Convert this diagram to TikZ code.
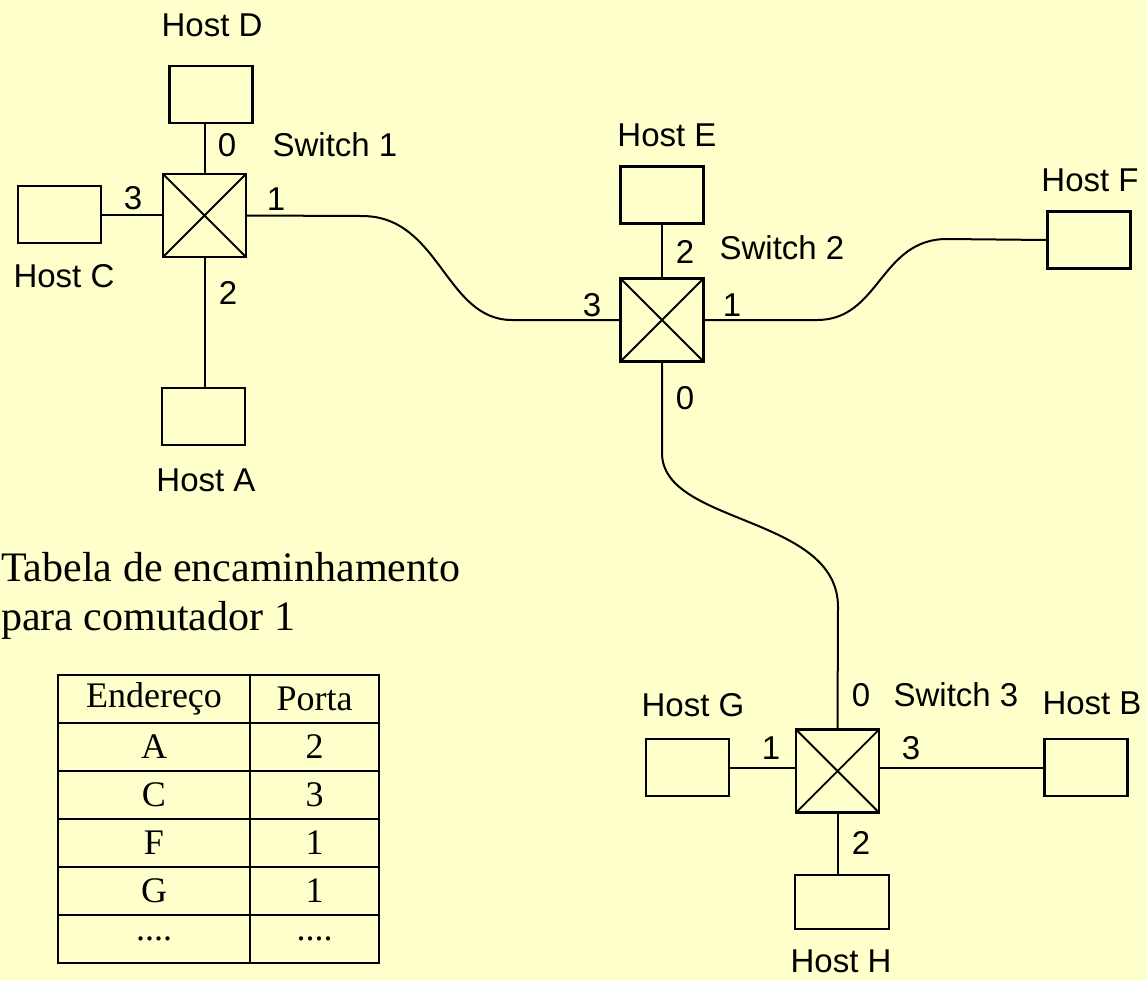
\documentclass[tikz,border=0pt]{standalone}
\usepackage{fontspec}
\setmainfont{Liberation Serif}
\newfontfamily\labelfont{Liberation Sans}
\usepackage{tikz}
\usetikzlibrary{positioning}
\definecolor{slidebg}{RGB}{255,255,204}
\newcommand{\moredots}{....}

\begin{document}
\begin{tikzpicture}[x=1pt, y=-1pt,
  every node/.style={inner sep=0pt},
  lbl/.style={font=\labelfont\fontsize{33}{40}\selectfont},
  host/.style={draw, line width=2.2pt, minimum width=83pt, minimum height=57pt},
  switch/.style={draw, line width=2.2pt, minimum size=83pt,
    path picture={\draw[line width=1.8pt]
      (path picture bounding box.north west) -- (path picture bounding box.south east)
      (path picture bounding box.north east) -- (path picture bounding box.south west);}},
  link/.style={line width=2pt},
  cell/.style={draw, line width=2.2pt, minimum height=48pt, font=\fontsize{36}{40}\selectfont},
]
\path[use as bounding box, fill=slidebg] (0,0) rectangle (1147,980);

% switches and hosts
\node[switch] (sw1) at (204.5,215.5) {};
\node[switch] (sw2) at (662,320)     {};
\node[switch] (sw3) at (837.5,771)   {};
\node[host] (hostA) at (203.5,416.5) {};
\node[host] (hostC) at (59.5,214.5)  {};
\node[host] (hostD) at (211,94.5)    {};
\node[host] (hostE) at (662,195)     {};
\node[host] (hostF) at (1089,240)    {};
\node[host] (hostG) at (687.5,767.5) {};
\node[host] (hostB) at (1086,767.5)  {};
\node[host, minimum width=94pt, minimum height=54pt] (hostH) at (842,902) {};

\node[lbl] (nameD) at (212,25)   {Host D};
\node[lbl] (nameC) at (64,276)   {Host C};
\node[lbl] (nameA) at (206,480)  {Host A};
\node[lbl] (nameE) at (667,135)  {Host E};
\node[lbl] (nameF) at (1090,180) {Host F};
\node[lbl] (nameG) at (693,705)  {Host G};
\node[lbl] (nameB) at (1092,703) {Host B};
\node[lbl] (nameH) at (841,961)  {Host H};
\node[lbl] (nameS1) at (335,145) {Switch 1};
\node[lbl] (nameS2) at (782,248) {Switch 2};
\node[lbl] (nameS3) at (956,695) {Switch 3};

% port numbers
\node[lbl] (sw1p0) at (227,145) {0};
\node[lbl] (sw1p1) at (276,199) {1};
\node[lbl] (sw1p2) at (228,293) {2};
\node[lbl] (sw1p3) at (133,198) {3};
\node[lbl] (sw2p0) at (685,398) {0};
\node[lbl] (sw2p1) at (732,305) {1};
\node[lbl] (sw2p2) at (685,252) {2};
\node[lbl] (sw2p3) at (592,305) {3};
\node[lbl] (sw3p0) at (861,695) {0};
\node[lbl] (sw3p1) at (771,748) {1};
\node[lbl] (sw3p2) at (861,843) {2};
\node[lbl] (sw3p3) at (911,748) {3};

% links
\draw[link] (sw1.north) -- (sw1.north |- hostD.south);
\draw[link] (hostC.east) -- (hostC.east -| sw1.west);
\draw[link] (sw1.south) -- (sw1.south |- hostA.north);
\draw[link] (sw1.east) -- (362,216) .. controls (440,216) and (445,320) .. (512,320) -- (sw2.west);
\draw[link] (hostE.south) -- (sw2.north);
\draw[link] (sw2.east) -- (817,320) .. controls (880,320) and (880,239) .. (947,239) -- (hostF.west);
\draw[link] (sw2.south) -- (662,453) .. controls (662,525) and (838,515) .. (838,607) -- (sw3.north);
\draw[link] (hostG.east) -- (hostG.east -| sw3.west);
\draw[link] (sw3.east |- hostB.west) -- (hostB.west);
\draw[link] (sw3.south) -- (sw3.south |- hostH.north);

% forwarding table
\node[anchor=north west, align=left, font=\fontsize{42}{49}\selectfont] (title) at (1,552)
  {Tabela de encaminhamento\\para comutador 1};
\foreach \addr/\port [count=\i from 0] in {Endereço/Porta, A/2, C/3, F/1, G/1, \moredots/\moredots} {
  \node[cell, minimum width=192pt] (addr\i) at (154,{699+48*\i})   {\addr};
  \node[cell, minimum width=129pt] (port\i) at (314.5,{699+48*\i}) {\port};
}
\end{tikzpicture}
\end{document}
